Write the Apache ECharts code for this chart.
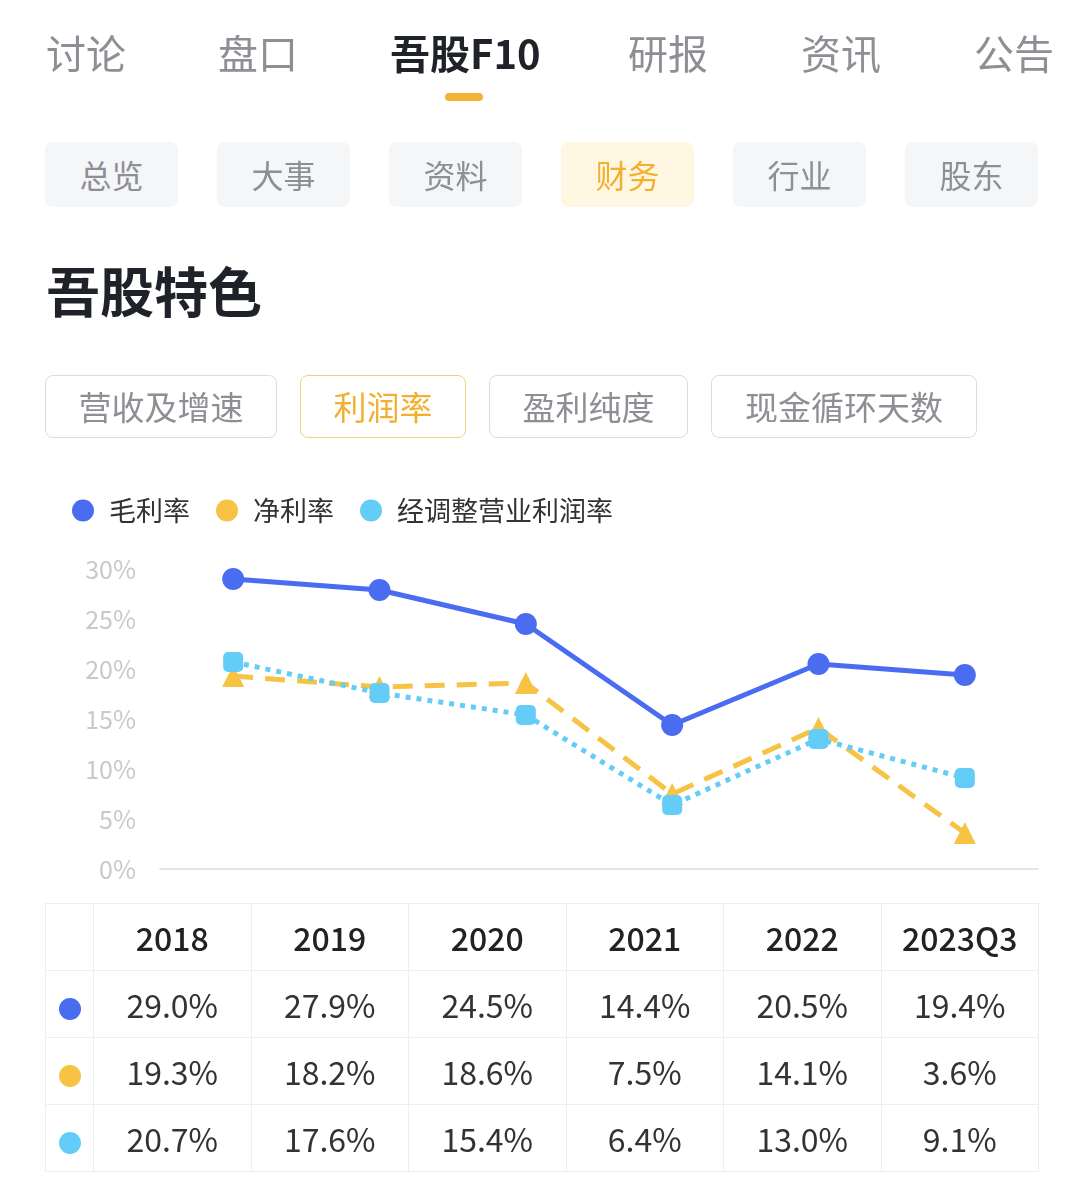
<!DOCTYPE html>
<html>
<head>
<meta charset="utf-8">
<script src="https://cdn.jsdelivr.net/npm/echarts@6/dist/echarts.min.js"></script>
<style>
  html, body { margin: 0; padding: 0; background: #fff; }
  body { width: 1083px; height: 1185px; position: relative; overflow: hidden;
         font-family: "Noto Sans CJK SC", "Noto Sans", sans-serif; }
  .abs { position: absolute; }
  .tab { top: 22px; font-size: 40px; color: #8e8f95; line-height: 60px; }
  .tab.on { color: #1f2329; font-weight: bold; }
  .bar { left: 445px; top: 93px; width: 38px; height: 8px; border-radius: 4px; background: #f5b335; }
  .sub { top: 142px; width: 133px; height: 65px; border-radius: 8px; background: #f5f6f8;
         color: #8e8f95; font-size: 32px; line-height: 65px; text-align: center; }
  .sub.on { background: #fff7e1; color: #f2b030; }
  .title { left: 46px; top: 255px; font-size: 54px; font-weight: bold; color: #1f2329; line-height: 70px; }
  .btn { top: 375px; height: 63px; border: 1px solid #dcdcdc; border-radius: 8px;
         font-size: 33px; color: #8e8f95; line-height: 61px; text-align: center; box-sizing: border-box; }
  .btn.on { border-color: #f3cd82; color: #f2b030; }
  #chart { left: 0; top: 0; width: 1083px; height: 1185px; }
  table { position: absolute; left: 45px; top: 903px; width: 994px; border-collapse: collapse; table-layout: fixed; }
  td { border: 1px solid #eeeeee; height: 66px; text-align: center; font-size: 32px; color: #333; padding: 0; }
  td.dot span { display: inline-block; width: 22px; height: 22px; border-radius: 11px; vertical-align: middle; }
  tr.head td { color: #222; font-weight: 500; }
</style>
</head>
<body>
<div id="chart" class="abs"></div>

<div class="abs tab" style="left:46px">讨论</div>
<div class="abs tab" style="left:218px">盘口</div>
<div class="abs tab on" style="left:390px">吾股F10</div>
<div class="abs tab" style="left:628px">研报</div>
<div class="abs tab" style="left:801px">资讯</div>
<div class="abs tab" style="left:974px">公告</div>
<div class="abs bar"></div>

<div class="abs sub" style="left:45px">总览</div>
<div class="abs sub" style="left:217px">大事</div>
<div class="abs sub" style="left:389px">资料</div>
<div class="abs sub on" style="left:561px">财务</div>
<div class="abs sub" style="left:733px">行业</div>
<div class="abs sub" style="left:905px">股东</div>

<div class="abs title">吾股特色</div>

<div class="abs btn" style="left:45px;width:232px">营收及增速</div>
<div class="abs btn on" style="left:300px;width:166px">利润率</div>
<div class="abs btn" style="left:489px;width:199px">盈利纯度</div>
<div class="abs btn" style="left:711px;width:266px">现金循环天数</div>

<table id="tbl"></table>

<script>
var years = ['2018', '2019', '2020', '2021', '2022', '2023Q3'];
var grossMargin = [29.0, 27.9, 24.5, 14.4, 20.5, 19.4];
var netMargin = [19.3, 18.2, 18.6, 7.5, 14.1, 3.6];
var adjOpMargin = [20.7, 17.6, 15.4, 6.4, 13.0, 9.1];
var seriesNames = ['毛利率', '净利率', '经调整营业利润率'];
var colors = ['#4a6cf1', '#f6c344', '#63cdf8'];

// table under the chart
var rows = [grossMargin, netMargin, adjOpMargin];
var html = '<colgroup><col style="width:48px">';
years.forEach(function () { html += '<col>'; });
html += '</colgroup><tr class="head"><td class="dot"></td>';
years.forEach(function (y) { html += '<td>' + y + '</td>'; });
html += '</tr>';
rows.forEach(function (r, i) {
  html += '<tr><td class="dot"><span style="background:' + colors[i] + '"></span></td>';
  r.forEach(function (v) { html += '<td>' + v.toFixed(1) + '%</td>'; });
  html += '</tr>';
});
document.getElementById('tbl').innerHTML = html;

var chart = echarts.init(document.getElementById('chart'));
var option = {
  color: colors,
  textStyle: { fontFamily: '"Noto Sans CJK SC", sans-serif' },
  legend: {
    left: 67,
    top: 492,
    icon: 'circle',
    itemWidth: 22,
    itemHeight: 22,
    itemGap: 26,
    textStyle: { fontSize: 27, color: '#333', padding: [0, 0, 0, 10] },
    data: seriesNames
  },
  grid: { left: 160, right: 45, top: 569, bottom: 316 },
  xAxis: {
    type: 'category',
    data: years,
    axisLine: { lineStyle: { color: '#e6e6e6', width: 2 } },
    axisTick: { show: false },
    axisLabel: { show: false }
  },
  yAxis: {
    type: 'value',
    min: 0,
    max: 30,
    interval: 5,
    axisLine: { show: false },
    axisTick: { show: false },
    splitLine: { show: false },
    axisLabel: { formatter: '{value}%', color: '#c9c9c9', fontSize: 25, margin: 24 }
  },
  series: [{
    name: seriesNames[0],
    type: 'line',
    data: grossMargin,
    symbol: 'circle',
    symbolSize: 22,
    lineStyle: { width: 5 },
    z: 5
  }, {
    name: seriesNames[1],
    type: 'line',
    data: netMargin,
    symbol: 'triangle',
    symbolSize: 22,
    lineStyle: { width: 5, type: [20, 12] },
    z: 3
  }, {
    name: seriesNames[2],
    type: 'line',
    data: adjOpMargin,
    symbol: 'roundRect',
    symbolSize: 20,
    lineStyle: { width: 5, type: [5, 6] },
    z: 4
  }]
};
chart.setOption(option);
</script>
</body>
</html>
